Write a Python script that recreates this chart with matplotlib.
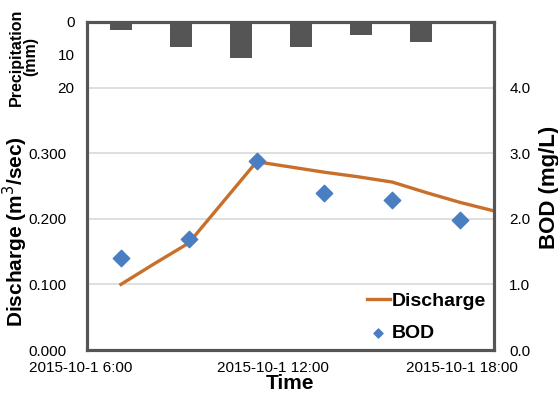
import numpy as np
import matplotlib
matplotlib.use('Agg')
import matplotlib.pyplot as plt
import matplotlib.transforms as mtransforms

# hours of 2015-10-1
bodTime = [7, 9, 11, 13, 15, 17]
bodVal = [1.40, 1.69, 2.88, 2.39, 2.28, 1.98]

dischargeTime = [7, 8, 9, 10, 11, 12, 13, 14, 15, 16, 17, 18]
dischargeVal = [0.100, 0.132, 0.163, 0.225, 0.287, 0.279, 0.271, 0.264, 0.256, 0.240, 0.225, 0.212]

precipTime = [7.0, 8.77, 10.54, 12.31, 14.08, 15.85]
precipVal = [2.5, 7.5, 11.0, 7.5, 4.0, 6.0]

xTicks = [6, 12, 18]
xTickLabels = ['2015-10-1 6:00', '2015-10-1 12:00', '2015-10-1 18:00']

plt.rcParams['font.family'] = ['Liberation Sans', 'DejaVu Sans']

frameCol = '#555555'
gridCol = '#d9d9d9'
lineCol = '#c96f2c'
bodCol = '#4a7ec2'
barCol = '#555555'

fig = plt.figure(figsize=(5.58, 4.09), dpi=100)
ax = fig.add_axes([87/558, 1-350/409, (494-87)/558, (350-22)/409])
ax2 = ax.twinx()
ax3 = ax.twinx()

# gridlines (discharge scale)
for g in [0.1, 0.2, 0.3, 0.4]:
    ax.axhline(g, color=gridCol, lw=1.2, zorder=0)

ln, = ax.plot(dischargeTime, dischargeVal, color=lineCol, lw=2.4, label='Discharge', zorder=3)
ax.set_xlim(6, 18)
ax.set_ylim(0, 0.5)
ax.set_yticks([0, 0.1, 0.2, 0.3])
ax.set_yticklabels(['%.3f' % v for v in [0, 0.1, 0.2, 0.3]])
ax.tick_params(axis='y', length=0, pad=15, labelsize=11)
ax.set_xticks(xTicks)
ax.set_xticklabels(xTickLabels)
ax.tick_params(axis='x', length=0, pad=8, labelsize=11)
offsets = [-6, -18, -32]
for lab, dx in zip(ax.get_xticklabels(), offsets):
    lab.set_transform(lab.get_transform() + mtransforms.ScaledTranslation(dx/100, 0, fig.dpi_scale_trans))
ax.set_xlabel('Time', fontsize=15, fontweight='bold', labelpad=-1)

sc = ax2.scatter(bodTime, bodVal, marker='D', s=70, color=bodCol, label='BOD', zorder=4)
ax2.set_ylim(0, 5)
ax2.set_yticks([0, 1, 2, 3, 4])
ax2.set_yticklabels(['%.1f' % v for v in [0, 1, 2, 3, 4]])
ax2.tick_params(axis='y', length=0, pad=11, labelsize=11)

ax3.bar(precipTime, precipVal, width=0.65, color=barCol, zorder=2)
ax3.set_ylim(100, 0)
ax3.set_yticks([0, 10, 20])
ax3.yaxis.tick_left()
ax3.tick_params(axis='y', length=0, pad=9, labelsize=11)

for a in [ax, ax2, ax3]:
    for s in a.spines.values():
        s.set_color(frameCol)
        s.set_linewidth(2.2)

fig.text(15/558, 1-232/409, 'Discharge (m$^3$/sec)', rotation=90, ha='center', va='center',
         fontsize=15, fontweight='bold')
fig.text(24/558, 1-57/409, 'Precipitation\n(mm)', rotation=90, ha='center', va='center',
         fontsize=11.5, fontweight='bold', linespacing=0.95)
fig.text(549/558, 1-187/409, 'BOD (mg/L)', rotation=90, ha='center', va='center',
         fontsize=16, fontweight='bold')

leg = ax3.legend([ln, sc], ['Discharge', 'BOD'], loc='lower right', frameon=False,
                 prop={'weight': 'bold', 'size': 14}, handlelength=1.2, handletextpad=0.1,
                 markerscale=0.55, borderaxespad=0.0, labelspacing=0.75)

fig.savefig('out.png', dpi=100)
